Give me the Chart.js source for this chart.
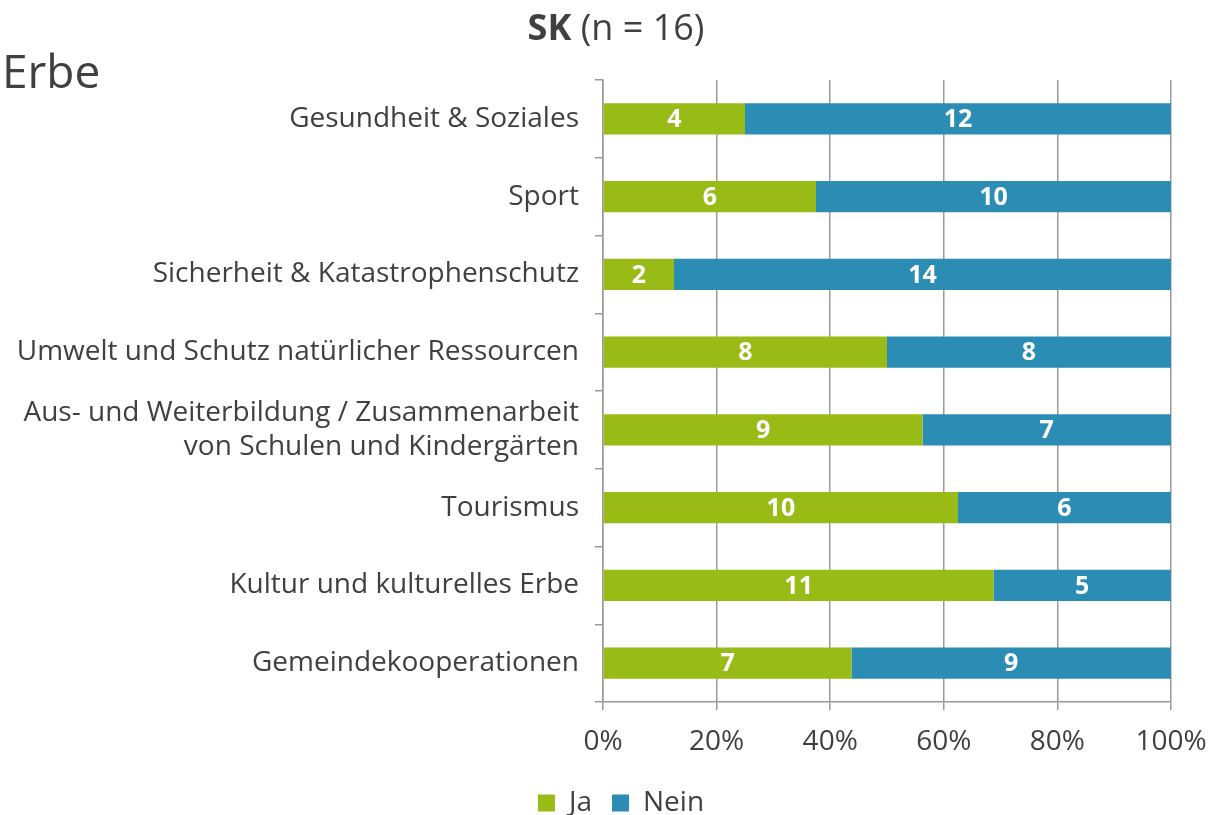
<!DOCTYPE html>
<html>
<head>
<meta charset="utf-8">
<script src="https://cdn.jsdelivr.net/npm/chart.js@4/dist/chart.umd.min.js"></script>
<style>
  html, body { margin: 0; padding: 0; background: #fff; }
  #wrap { position: relative; width: 1210px; height: 815px; overflow: hidden; }
  #title { position: absolute; left: 0; width: 1232px; top: 2px; text-align: center;
           font-family: "Open Sans", sans-serif; font-size: 36px; color: #404040; }
  #erbe { position: absolute; left: 2px; top: 39px; font-family: "Open Sans", sans-serif;
          font-size: 46px; color: #404040; }
</style>
</head>
<body>
<div id="wrap">
  <canvas id="c" width="1210" height="815"></canvas>
  <div id="title"><b>SK</b> (n = 16)</div>
  <div id="erbe">Erbe</div>
</div>
<script>
const categories = [
  "Gesundheit & Soziales",
  "Sport",
  "Sicherheit & Katastrophenschutz",
  "Umwelt und Schutz natürlicher Ressourcen",
  ["Aus- und Weiterbildung / Zusammenarbeit", "von Schulen und Kindergärten"],
  "Tourismus",
  "Kultur und kulturelles Erbe",
  "Gemeindekooperationen"
];
const jaCounts   = [4, 6, 2, 8, 9, 10, 11, 7];
const neinCounts = [12, 10, 14, 8, 7, 6, 5, 9];
const seriesNames = ["Ja", "Nein"];
const xTickValues = [0, 20, 40, 60, 80, 100];

const total = jaCounts.map((v, i) => v + neinCounts[i]);
const jaPct = jaCounts.map((v, i) => v / total[i] * 100);
const neinPct = neinCounts.map((v, i) => v / total[i] * 100);

const TEXT = "#404040";
const FONT = "'Open Sans', sans-serif";
const LEGEND_PAD = 20;
const LEGEND_FONT = 28;

const labelPlugin = {
  id: "segLabels",
  afterDatasetsDraw(chart) {
    const ctx = chart.ctx;
    ctx.save();
    ctx.fillStyle = "#ffffff";
    ctx.font = "bold 25px " + FONT;
    ctx.textAlign = "center";
    ctx.textBaseline = "middle";
    chart.data.datasets.forEach((ds, di) => {
      const meta = chart.getDatasetMeta(di);
      meta.data.forEach((el, i) => {
        const p = el.getProps(["x", "y", "base"], true);
        ctx.fillText(String(ds.counts[i]), (p.x + p.base) / 2, p.y + 1);
      });
    });
    ctx.restore();
  }
};

// place the legend where the reference has it (centred at x≈621, text row at y≈803)
const legendPlace = {
  id: "legendPlace",
  afterLayout(chart) {
    const lg = chart.legend;
    if (!lg) return;
    const dx = 621 - (lg.left + lg.right) / 2;
    lg.left += dx; lg.right += dx;
    const dy = 803 - (lg.top + LEGEND_PAD + LEGEND_FONT / 2);
    lg.top += dy; lg.bottom += dy;
    if (lg.legendHitBoxes) lg.legendHitBoxes.forEach(h => { h.left += dx; h.top += dy; });
  }
};

new Chart(document.getElementById("c"), {
  type: "bar",
  data: {
    labels: categories,
    datasets: [
      { label: seriesNames[0], data: jaPct, counts: jaCounts, backgroundColor: "#98bb16",
        barPercentage: 0.4, categoryPercentage: 1 },
      { label: seriesNames[1], data: neinPct, counts: neinCounts, backgroundColor: "#2b8db3",
        barPercentage: 0.4, categoryPercentage: 1 }
    ]
  },
  options: {
    indexAxis: "y",
    responsive: false,
    animation: false,
    layout: { padding: { left: 0, right: 39, top: 80, bottom: 0 } },
    plugins: {
      legend: {
        position: "bottom",
        labels: { boxWidth: 17, boxHeight: 17, color: TEXT, font: { family: FONT, size: LEGEND_FONT }, padding: LEGEND_PAD }
      },
      tooltip: { enabled: false },
      title: { display: false }
    },
    scales: {
      x: {
        stacked: true, min: 0, max: 100,
        afterBuildTicks(scale) { scale.ticks = xTickValues.map(v => ({ value: v })); },
        afterFit(scale) { scale.height = 55; scale.paddingRight = 0; scale.paddingLeft = 0; },
        ticks: { color: TEXT, font: { family: FONT, size: 28 }, padding: 15,
                 callback: v => v + "%", maxRotation: 0 },
        grid: { color: "#9a9a9a", lineWidth: 1.5, tickLength: 8, drawTicks: true },
        border: { color: "#9a9a9a", width: 1.5 }
      },
      y: {
        stacked: true,
        afterFit(scale) { scale.width = 603; scale.paddingTop = 0; scale.paddingBottom = 0; },
        ticks: { color: TEXT, font: { family: FONT, size: 28 }, padding: 16, autoSkip: false },
        grid: { drawOnChartArea: false, color: "#9a9a9a", lineWidth: 1.5, tickLength: 8, offset: true },
        border: { color: "#9a9a9a", width: 1.5 }
      }
    }
  },
  plugins: [labelPlugin, legendPlace]
});
</script>
</body>
</html>
